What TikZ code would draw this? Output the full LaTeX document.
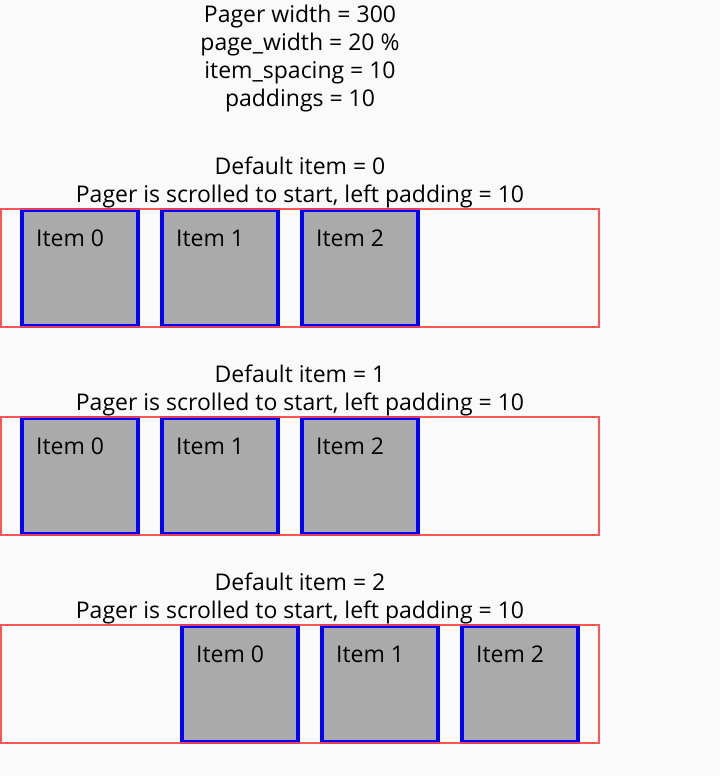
\documentclass[tikz,border=0pt]{standalone}
\usepackage{fontspec}
\setmainfont{Open Sans}
\definecolor{bg}{HTML}{FAFAFA}
\definecolor{pagerred}{HTML}{FF4444}
\definecolor{itemblue}{HTML}{0000FF}
\definecolor{itemgray}{HTML}{AAAAAA}
\begin{document}
\begin{tikzpicture}[x=1pt,y=-1pt,
  txt/.style={anchor=base,inner sep=0pt,font=\fontsize{23}{28}\selectfont},
  lbl/.style={anchor=base west,inner sep=0pt,font=\fontsize{23}{28}\selectfont},
  pager/.style={draw=pagerred,draw opacity=0.9,line width=2pt},
  itembox/.style={draw=itemblue,fill=itemgray,line width=4pt}]
\fill[bg] (0,0) rectangle (720,776);
\useasboundingbox (0,0) rectangle (720,776);
\node[txt] (t1) at (300,22.5) {Pager width = 300};
\node[txt] (t2) at (300,50.5) {page\_width = 20 \%};
\node[txt] (t3) at (300,78.5) {item\_spacing = 10};
\node[txt] (t4) at (300,106.5) {paddings = 10};
% rows
\foreach \r/\dy/\k/\off in {1/0/0/0, 2/208/1/0, 3/416/2/160} {
  \node[txt] (d\r) at (300,174.5+\dy) {Default item = \k};
  \node[txt] (s\r) at (300,202.5+\dy) {Pager is scrolled to start, left padding = 10};
  \foreach \i in {0,1,2} {
    \draw[itembox] (22+\off+140*\i,210+\dy) rectangle (138+\off+140*\i,326+\dy);
    \node[lbl] (l\r\i) at (36+\off+140*\i,246.5+\dy) {Item \i};
  }
  \draw[pager] (1,209+\dy) rectangle (599,327+\dy);
}
\end{tikzpicture}
\end{document}
